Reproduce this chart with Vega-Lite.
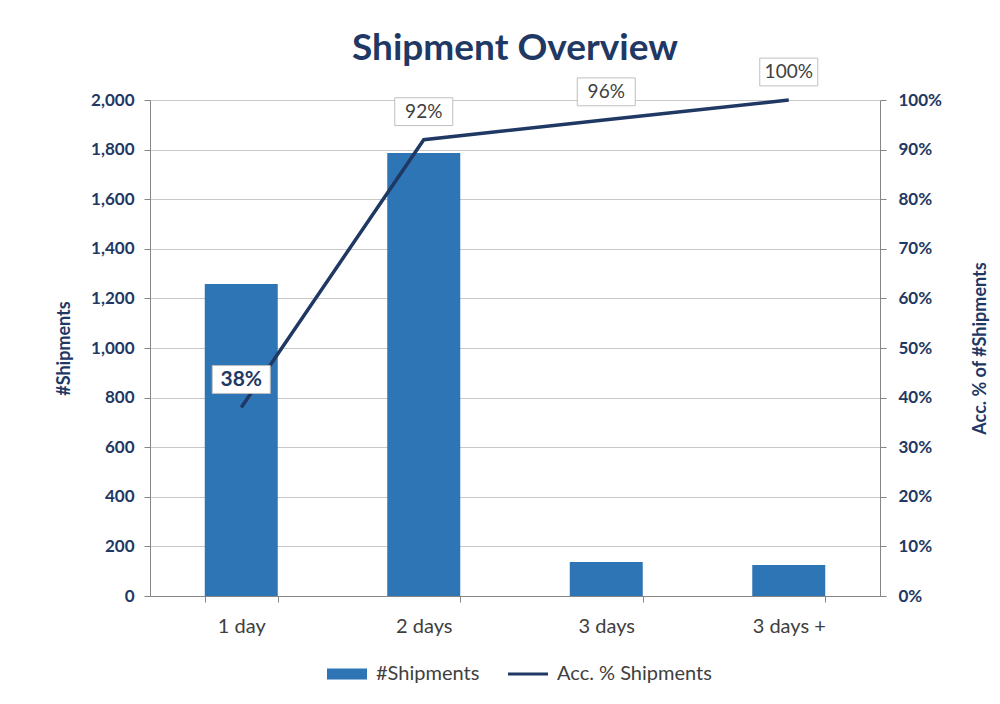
{
  "$schema": "https://vega.github.io/schema/vega-lite/v6.json",
  "width": 730,
  "height": 496,
  "autosize": "none",
  "padding": {"left": 150, "top": 100, "right": 120, "bottom": 108},
  "background": "white",
  "config": {
    "view": {"stroke": null},
    "font": "Lato",
    "axis": {"labelFont": "Lato", "titleFont": "Lato"},
    "legend": {"labelFont": "Lato"}
  },
  "title": {
    "text": "Shipment Overview",
    "fontSize": 37,
    "fontWeight": "bold",
    "color": "#1F3864",
    "font": "Lato",
    "anchor": "middle",
    "offset": -12
  },
  "data": {
    "values": [
      {"cat": "1 day", "shipments": 1258, "acc": 0.38},
      {"cat": "2 days", "shipments": 1786, "acc": 0.92},
      {"cat": "3 days", "shipments": 137, "acc": 0.96},
      {"cat": "3 days +", "shipments": 125, "acc": 1.0}
    ]
  },
  "encoding": {
    "x": {
      "field": "cat",
      "type": "nominal",
      "sort": null,
      "scale": {"paddingInner": 0.6, "paddingOuter": 0.3},
      "axis": {
        "title": null,
        "labelAngle": 0,
        "labelFontSize": 20,
        "labelColor": "#404040",
        "labelPadding": 14,
        "domainColor": "#868686",
        "tickColor": "#868686",
        "tickSize": 6,
        "tickBand": "extent",
        "grid": false
      }
    }
  },
  "layer": [
    {
      "mark": {"type": "bar", "color": "#2E75B6"},
      "encoding": {
        "y": {
          "field": "shipments",
          "type": "quantitative",
          "scale": {"domain": [0, 2000], "nice": false},
          "axis": {
            "title": "#Shipments",
            "titleFontSize": 18,
            "titleFontWeight": "bold",
            "titleColor": "#1F3864",
            "titlePadding": 17,
            "labelFontSize": 17,
            "labelFontWeight": "bold",
            "labelColor": "#1F3864",
            "labelPadding": 10,
            "values": [0, 200, 400, 600, 800, 1000, 1200, 1400, 1600, 1800, 2000],
            "format": ",.0f",
            "domainColor": "#868686",
            "tickColor": "#868686",
            "tickSize": 6,
            "grid": true,
            "gridColor": "#C8C8C8"
          }
        },
        "color": {
          "datum": "#Shipments",
          "type": "nominal",
          "scale": {"domain": ["#Shipments", "Acc. % Shipments"], "range": ["#2E75B6", "#1F3864"]},
          "legend": {
            "title": null,
            "orient": "none",
            "legendX": 187,
            "legendY": 564,
            "direction": "horizontal",
            "labelFontSize": 20,
            "labelColor": "#404040",
            "symbolSize": 1600,
            "labelOffset": 19,
            "columnPadding": 22,
            "encode": {
              "symbols": {
                "update": {
                  "shape": {"signal": "datum.value === '#Shipments' ? 'M-1,-0.28H1V0.28H-1Z' : 'M-1,0H1'"},
                  "fill": {"signal": "datum.value === '#Shipments' ? '#2E75B6' : 'transparent'"},
                  "stroke": {"signal": "datum.value === '#Shipments' ? '#2E75B6' : '#1F3864'"},
                  "strokeWidth": {"signal": "datum.value === '#Shipments' ? 0 : 3"},
                  "opacity": {"value": 1},
                  "fillOpacity": {"value": 1}
                }
              }
            }
          }
        }
      }
    },
    {
      "encoding": {
        "y": {
          "field": "acc",
          "type": "quantitative",
          "scale": {"domain": [0, 1], "nice": false},
          "axis": {
            "orient": "right",
            "title": "Acc. % of #Shipments",
            "titleAngle": 270,
            "titleFontSize": 18,
            "titleFontWeight": "bold",
            "titleColor": "#1F3864",
            "titlePadding": 48,
            "labelFontSize": 17,
            "labelFontWeight": "bold",
            "labelColor": "#1F3864",
            "labelPadding": 12,
            "values": [0, 0.1, 0.2, 0.3, 0.4, 0.5, 0.6, 0.7, 0.8, 0.9, 1.0],
            "format": ".0%",
            "domainColor": "#868686",
            "tickColor": "#868686",
            "tickSize": 6,
            "grid": false
          }
        }
      },
      "layer": [
        {
          "mark": {"type": "line", "strokeWidth": 3.5},
          "encoding": {
            "color": {"datum": "Acc. % Shipments", "type": "nominal"}
          }
        },
        {
          "mark": {
            "type": "point",
            "shape": "M-1,-0.48H1V0.48H-1Z",
            "size": 3364,
            "filled": true,
            "fill": "white",
            "stroke": "#BFBFBF",
            "strokeWidth": 1,
            "opacity": 1,
            "yOffset": -28
          }
        },
        {
          "transform": [{"filter": "datum.cat === '1 day'"}],
          "mark": {"type": "text", "fontSize": 21, "fontWeight": "bold", "color": "#1F3864", "dy": -28, "baseline": "middle"},
          "encoding": {"text": {"field": "acc", "type": "quantitative", "format": ".0%"}}
        },
        {
          "transform": [{"filter": "datum.cat !== '1 day'"}],
          "mark": {"type": "text", "fontSize": 19, "color": "#404040", "dy": -28, "baseline": "middle"},
          "encoding": {"text": {"field": "acc", "type": "quantitative", "format": ".0%"}}
        }
      ]
    }
  ],
  "resolve": {"scale": {"y": "independent"}}
}
